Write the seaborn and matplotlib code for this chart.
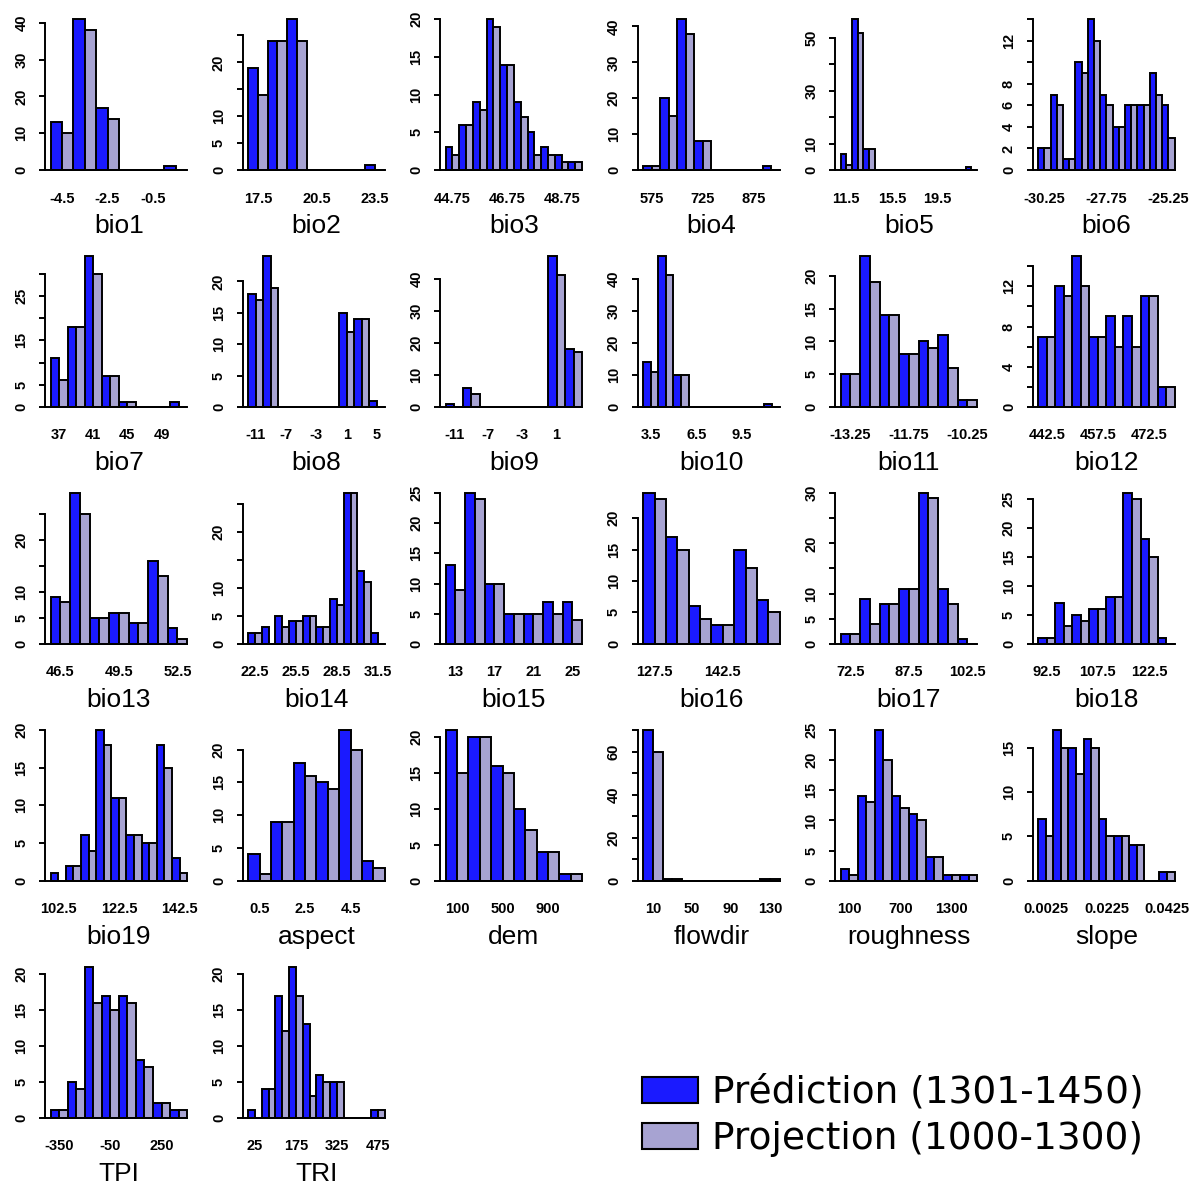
import matplotlib
matplotlib.use("Agg")
import matplotlib.pyplot as plt
from matplotlib.patches import Patch
import pandas as pd
import seaborn as sns

PRED_LABEL = "Prédiction (1301-1450)"
PROJ_LABEL = "Projection (1000-1300)"
PRED_COLOR = "#1a1aff"
PROJ_COLOR = "#a7a3d2"

# ---- binned counts per variable: bin centres, prediction counts, projection counts ----
bio1_bins = [-4.5, -3.5, -2.5, -1.5, -0.5, 0.5]
bio1_pred = [13, 41, 17, 0, 0, 1]
bio1_proj = [10, 38, 14, 0, 0, 0]
bio1_xlab = [-4.5, -2.5, -0.5]
bio1_yticks = [0, 10, 20, 30, 40]
bio1_ylab = [0, 10, 20, 30, 40]

bio2_bins = [17.5, 18.5, 19.5, 20.5, 21.5, 22.5, 23.5]
bio2_pred = [19, 24, 28, 0, 0, 0, 1]
bio2_proj = [14, 24, 24, 0, 0, 0, 0]
bio2_xlab = [17.5, 20.5, 23.5]
bio2_yticks = [0, 5, 10, 15, 20, 25]
bio2_ylab = [0, 5, 10, 20]

bio3_bins = [44.75, 45.25, 45.75, 46.25, 46.75, 47.25, 47.75, 48.25, 48.75, 49.25]
bio3_pred = [3, 6, 9, 20, 14, 9, 5, 3, 2, 1]
bio3_proj = [2, 6, 8, 19, 14, 7, 2, 2, 1, 1]
bio3_xlab = [44.75, 46.75, 48.75]
bio3_yticks = [0, 5, 10, 15, 20]
bio3_ylab = [0, 5, 10, 15, 20]

bio4_bins = [575, 625, 675, 725, 775, 825, 875, 925]
bio4_pred = [1, 20, 42, 8, 0, 0, 0, 1]
bio4_proj = [1, 15, 38, 8, 0, 0, 0, 0]
bio4_xlab = [575, 725, 875]
bio4_yticks = [0, 10, 20, 30, 40]
bio4_ylab = [0, 10, 20, 30, 40]

bio5_bins = [11.5, 12.5, 13.5, 14.5, 15.5, 16.5, 17.5, 18.5, 19.5, 20.5, 21.5, 22.5]
bio5_pred = [6, 57, 8, 0, 0, 0, 0, 0, 0, 0, 0, 1]
bio5_proj = [2, 52, 8, 0, 0, 0, 0, 0, 0, 0, 0, 0]
bio5_xlab = [11.5, 15.5, 19.5]
bio5_yticks = [0, 10, 20, 30, 40, 50]
bio5_ylab = [0, 10, 30, 50]

bio6_bins = [-30.25, -29.75, -29.25, -28.75, -28.25, -27.75, -27.25, -26.75, -26.25, -25.75, -25.25]
bio6_pred = [2, 7, 1, 10, 14, 7, 4, 6, 6, 9, 6]
bio6_proj = [2, 6, 1, 9, 12, 6, 4, 6, 6, 7, 3]
bio6_xlab = [-30.25, -27.75, -25.25]
bio6_yticks = [0, 2, 4, 6, 8, 10, 12, 14]
bio6_ylab = [0, 2, 4, 6, 8, 12]

bio7_bins = [37, 39, 41, 43, 45, 47, 49, 51]
bio7_pred = [11, 18, 34, 7, 1, 0, 0, 1]
bio7_proj = [6, 18, 30, 7, 1, 0, 0, 0]
bio7_xlab = [37, 41, 45, 49]
bio7_yticks = [0, 5, 10, 15, 20, 25, 30]
bio7_ylab = [0, 5, 15, 25]

bio8_bins = [-11, -9, -7, -5, -3, -1, 1, 3, 5]
bio8_pred = [18, 24, 0, 0, 0, 0, 15, 14, 1]
bio8_proj = [17, 19, 0, 0, 0, 0, 12, 14, 0]
bio8_xlab = [-11, -7, -3, 1, 5]
bio8_yticks = [0, 5, 10, 15, 20]
bio8_ylab = [0, 5, 10, 15, 20]

bio9_bins = [-11, -9, -7, -5, -3, -1, 1, 3]
bio9_pred = [1, 6, 0, 0, 0, 0, 47, 18]
bio9_proj = [0, 4, 0, 0, 0, 0, 41, 17]
bio9_xlab = [-11, -7, -3, 1]
bio9_yticks = [0, 10, 20, 30, 40]
bio9_ylab = [0, 10, 20, 30, 40]

bio10_bins = [3.5, 4.5, 5.5, 6.5, 7.5, 8.5, 9.5, 10.5, 11.5]
bio10_pred = [14, 47, 10, 0, 0, 0, 0, 0, 1]
bio10_proj = [11, 41, 10, 0, 0, 0, 0, 0, 0]
bio10_xlab = [3.5, 6.5, 9.5]
bio10_yticks = [0, 10, 20, 30, 40]
bio10_ylab = [0, 10, 20, 30, 40]

bio11_bins = [-13.25, -12.75, -12.25, -11.75, -11.25, -10.75, -10.25]
bio11_pred = [5, 23, 14, 8, 10, 11, 1]
bio11_proj = [5, 19, 14, 8, 9, 6, 1]
bio11_xlab = [-13.25, -11.75, -10.25]
bio11_yticks = [0, 5, 10, 15, 20]
bio11_ylab = [0, 5, 10, 15, 20]

bio12_bins = [442.5, 447.5, 452.5, 457.5, 462.5, 467.5, 472.5, 477.5]
bio12_pred = [7, 12, 15, 7, 9, 9, 11, 2]
bio12_proj = [7, 11, 12, 7, 6, 6, 11, 2]
bio12_xlab = [442.5, 457.5, 472.5]
bio12_yticks = [0, 2, 4, 6, 8, 10, 12, 14]
bio12_ylab = [0, 4, 8, 12]

bio13_bins = [46.5, 47.5, 48.5, 49.5, 50.5, 51.5, 52.5]
bio13_pred = [9, 29, 5, 6, 4, 16, 3]
bio13_proj = [8, 25, 5, 6, 4, 13, 1]
bio13_xlab = [46.5, 49.5, 52.5]
bio13_yticks = [0, 5, 10, 15, 20, 25]
bio13_ylab = [0, 5, 10, 20]

bio14_bins = [22.5, 23.5, 24.5, 25.5, 26.5, 27.5, 28.5, 29.5, 30.5, 31.5]
bio14_pred = [2, 3, 5, 4, 5, 3, 8, 27, 13, 2]
bio14_proj = [2, 0, 3, 4, 5, 3, 7, 27, 11, 0]
bio14_xlab = [22.5, 25.5, 28.5, 31.5]
bio14_yticks = [0, 5, 10, 15, 20, 25]
bio14_ylab = [0, 5, 10, 20]

bio15_bins = [13, 15, 17, 19, 21, 23, 25]
bio15_pred = [13, 25, 10, 5, 5, 7, 7]
bio15_proj = [9, 24, 10, 5, 5, 5, 4]
bio15_xlab = [13, 17, 21, 25]
bio15_yticks = [0, 5, 10, 15, 20, 25]
bio15_ylab = [0, 5, 10, 15, 20, 25]

bio16_bins = [127.5, 132.5, 137.5, 142.5, 147.5, 152.5]
bio16_pred = [24, 17, 6, 3, 15, 7]
bio16_proj = [23, 15, 4, 3, 12, 5]
bio16_xlab = [127.5, 142.5]
bio16_yticks = [0, 5, 10, 15, 20]
bio16_ylab = [0, 5, 10, 15, 20]

bio17_bins = [72.5, 77.5, 82.5, 87.5, 92.5, 97.5, 102.5]
bio17_pred = [2, 9, 8, 11, 30, 11, 1]
bio17_proj = [2, 4, 8, 11, 29, 8, 0]
bio17_xlab = [72.5, 87.5, 102.5]
bio17_yticks = [0, 5, 10, 15, 20, 25, 30]
bio17_ylab = [0, 5, 10, 20, 30]

bio18_bins = [92.5, 97.5, 102.5, 107.5, 112.5, 117.5, 122.5, 127.5]
bio18_pred = [1, 7, 5, 6, 8, 26, 18, 1]
bio18_proj = [1, 3, 4, 6, 8, 25, 15, 0]
bio18_xlab = [92.5, 107.5, 122.5]
bio18_yticks = [0, 5, 10, 15, 20, 25]
bio18_ylab = [0, 5, 10, 15, 20, 25]

bio19_bins = [102.5, 107.5, 112.5, 117.5, 122.5, 127.5, 132.5, 137.5, 142.5]
bio19_pred = [1, 2, 6, 20, 11, 6, 5, 18, 3]
bio19_proj = [0, 2, 4, 18, 11, 6, 5, 15, 1]
bio19_xlab = [102.5, 122.5, 142.5]
bio19_yticks = [0, 5, 10, 15, 20]
bio19_ylab = [0, 5, 10, 15, 20]

aspect_bins = [0.5, 1.5, 2.5, 3.5, 4.5, 5.5]
aspect_pred = [4, 9, 18, 15, 23, 3]
aspect_proj = [1, 9, 16, 14, 20, 2]
aspect_xlab = [0.5, 2.5, 4.5]
aspect_yticks = [0, 5, 10, 15, 20]
aspect_ylab = [0, 5, 10, 15, 20]

dem_bins = [100, 300, 500, 700, 900, 1100]
dem_pred = [21, 20, 16, 10, 4, 1]
dem_proj = [15, 20, 15, 7, 4, 1]
dem_xlab = [100, 500, 900]
dem_yticks = [0, 5, 10, 15, 20]
dem_ylab = [0, 5, 10, 15, 20]

flowdir_bins = [10, 30, 50, 70, 90, 110, 130]
flowdir_pred = [70, 1, 0, 0, 0, 0, 1]
flowdir_proj = [60, 1, 0, 0, 0, 0, 1]
flowdir_xlab = [10, 50, 90, 130]
flowdir_yticks = [0, 10, 20, 30, 40, 50, 60, 70]
flowdir_ylab = [0, 20, 40, 60]

roughness_bins = [100, 300, 500, 700, 900, 1100, 1300, 1500]
roughness_pred = [2, 14, 25, 14, 11, 4, 1, 1]
roughness_proj = [1, 13, 20, 12, 10, 4, 1, 1]
roughness_xlab = [100, 700, 1300]
roughness_yticks = [0, 5, 10, 15, 20, 25]
roughness_ylab = [0, 5, 10, 15, 20, 25]

slope_bins = [0.0025, 0.0075, 0.0125, 0.0175, 0.0225, 0.0275, 0.0325, 0.0375, 0.0425]
slope_pred = [7, 17, 15, 16, 7, 5, 4, 0, 1]
slope_proj = [5, 15, 12, 15, 5, 5, 4, 0, 1]
slope_xlab = [0.0025, 0.0225, 0.0425]
slope_yticks = [0, 5, 10, 15]
slope_ylab = [0, 5, 10, 15]

TPI_bins = [-350, -250, -150, -50, 50, 150, 250, 350]
TPI_pred = [1, 5, 21, 17, 17, 8, 2, 1]
TPI_proj = [1, 4, 16, 15, 16, 7, 2, 1]
TPI_xlab = [-350, -50, 250]
TPI_yticks = [0, 5, 10, 15, 20]
TPI_ylab = [0, 5, 10, 15, 20]

TRI_bins = [25, 75, 125, 175, 225, 275, 325, 375, 425, 475]
TRI_pred = [1, 4, 17, 21, 13, 6, 5, 0, 0, 1]
TRI_proj = [0, 4, 12, 17, 3, 5, 5, 0, 0, 1]
TRI_xlab = [25, 175, 325, 475]
TRI_yticks = [0, 5, 10, 15, 20]
TRI_ylab = [0, 5, 10, 15, 20]

PANELS = [
    ("bio1", bio1_bins, bio1_pred, bio1_proj, bio1_xlab, bio1_yticks, bio1_ylab),
    ("bio2", bio2_bins, bio2_pred, bio2_proj, bio2_xlab, bio2_yticks, bio2_ylab),
    ("bio3", bio3_bins, bio3_pred, bio3_proj, bio3_xlab, bio3_yticks, bio3_ylab),
    ("bio4", bio4_bins, bio4_pred, bio4_proj, bio4_xlab, bio4_yticks, bio4_ylab),
    ("bio5", bio5_bins, bio5_pred, bio5_proj, bio5_xlab, bio5_yticks, bio5_ylab),
    ("bio6", bio6_bins, bio6_pred, bio6_proj, bio6_xlab, bio6_yticks, bio6_ylab),
    ("bio7", bio7_bins, bio7_pred, bio7_proj, bio7_xlab, bio7_yticks, bio7_ylab),
    ("bio8", bio8_bins, bio8_pred, bio8_proj, bio8_xlab, bio8_yticks, bio8_ylab),
    ("bio9", bio9_bins, bio9_pred, bio9_proj, bio9_xlab, bio9_yticks, bio9_ylab),
    ("bio10", bio10_bins, bio10_pred, bio10_proj, bio10_xlab, bio10_yticks, bio10_ylab),
    ("bio11", bio11_bins, bio11_pred, bio11_proj, bio11_xlab, bio11_yticks, bio11_ylab),
    ("bio12", bio12_bins, bio12_pred, bio12_proj, bio12_xlab, bio12_yticks, bio12_ylab),
    ("bio13", bio13_bins, bio13_pred, bio13_proj, bio13_xlab, bio13_yticks, bio13_ylab),
    ("bio14", bio14_bins, bio14_pred, bio14_proj, bio14_xlab, bio14_yticks, bio14_ylab),
    ("bio15", bio15_bins, bio15_pred, bio15_proj, bio15_xlab, bio15_yticks, bio15_ylab),
    ("bio16", bio16_bins, bio16_pred, bio16_proj, bio16_xlab, bio16_yticks, bio16_ylab),
    ("bio17", bio17_bins, bio17_pred, bio17_proj, bio17_xlab, bio17_yticks, bio17_ylab),
    ("bio18", bio18_bins, bio18_pred, bio18_proj, bio18_xlab, bio18_yticks, bio18_ylab),
    ("bio19", bio19_bins, bio19_pred, bio19_proj, bio19_xlab, bio19_yticks, bio19_ylab),
    ("aspect", aspect_bins, aspect_pred, aspect_proj, aspect_xlab, aspect_yticks, aspect_ylab),
    ("dem", dem_bins, dem_pred, dem_proj, dem_xlab, dem_yticks, dem_ylab),
    ("flowdir", flowdir_bins, flowdir_pred, flowdir_proj, flowdir_xlab, flowdir_yticks, flowdir_ylab),
    ("roughness", roughness_bins, roughness_pred, roughness_proj, roughness_xlab, roughness_yticks, roughness_ylab),
    ("slope", slope_bins, slope_pred, slope_proj, slope_xlab, slope_yticks, slope_ylab),
    ("TPI", TPI_bins, TPI_pred, TPI_proj, TPI_xlab, TPI_yticks, TPI_ylab),
    ("TRI", TRI_bins, TRI_pred, TRI_proj, TRI_xlab, TRI_yticks, TRI_ylab),
]

# ---- layout (pixels) ----
FIG_W, FIG_H, DPI = 1192, 1187, 100
N_COLS = 6
COL_X0, COL_STEP, AX_W = 45.2, 197.5, 147.4   # left edge of plot region, column pitch, width
ROW_BASE0, ROW_STEP = 170.0, 236.9            # y of the zero line in the first row, row pitch
BAR_SPAN = 150.7                              # pixel height of the tallest bar
TITLE_DROP = 63                               # baseline of panel name below the zero line
LW = 1.4

plt.rcParams["font.family"] = ["Liberation Sans", "DejaVu Sans"]

fig = plt.figure(figsize=(FIG_W / DPI, FIG_H / DPI), dpi=DPI)
fig.patch.set_facecolor("white")


def fmt(v):
    return f"{v:g}"


for k, (name, bins, pred, proj, xlab, yticks, ylab) in enumerate(PANELS):
    r, c = divmod(k, N_COLS)
    base = ROW_BASE0 + r * ROW_STEP
    top = base - 1.04 * BAR_SPAN
    bottom = base + 0.04 * BAR_SPAN
    left = COL_X0 + c * COL_STEP
    ax = fig.add_axes([left / FIG_W, 1 - bottom / FIG_H, AX_W / FIG_W, (bottom - top) / FIG_H])

    cats = [fmt(b) for b in bins]
    n = len(cats)
    df = pd.DataFrame({
        "bin": cats * 2,
        "count": list(pred) + list(proj),
        "series": [PRED_LABEL] * n + [PROJ_LABEL] * n,
    })
    sns.barplot(data=df, x="bin", y="count", hue="series", order=cats,
                hue_order=[PRED_LABEL, PROJ_LABEL], palette=[PRED_COLOR, PROJ_COLOR],
                width=1.0, dodge=True, saturation=1, errorbar=None,
                edgecolor="black", linewidth=LW, legend=False, ax=ax)

    m = max(max(pred), max(proj))
    x0 = -0.5 - 0.04 * n
    ax.set_xlim(x0, n - 0.5 + 0.04 * n)
    ax.set_ylim(-0.04 * m, 1.04 * m)
    ax.set_xlabel("")
    ax.set_ylabel("")
    ax.set_facecolor("none")

    for side in ("top", "right"):
        ax.spines[side].set_visible(False)
    ax.spines["left"].set_bounds(0, yticks[-1])
    ax.spines["left"].set_linewidth(LW)
    ax.spines["bottom"].set_position(("data", 0))
    ax.spines["bottom"].set_bounds(x0, n - 0.5)
    ax.spines["bottom"].set_linewidth(LW)

    ax.set_yticks(yticks, labels=[str(t) if t in ylab else "" for t in yticks])
    ax.tick_params(axis="y", direction="out", length=4.6, width=LW, pad=7.5,
                   labelsize=10.5, labelrotation=90)
    for lab in ax.get_yticklabels():
        lab.set_fontweight("bold")
        lab.set_va("center")

    ax.set_xticks([cats.index(fmt(v)) for v in xlab], labels=[fmt(v) for v in xlab])
    ax.tick_params(axis="x", length=0, pad=15.5, labelsize=10.5)
    for lab in ax.get_xticklabels():
        lab.set_fontweight("bold")

    fig.text((left + AX_W / 2) / FIG_W, 1 - (base + TITLE_DROP) / FIG_H, name,
             ha="center", va="baseline", fontsize=19)

handles = [
    Patch(facecolor=PRED_COLOR, edgecolor="black", linewidth=1.5, label=PRED_LABEL),
    Patch(facecolor=PROJ_COLOR, edgecolor="black", linewidth=1.5, label=PROJ_LABEL),
]
fig.legend(handles=handles, loc="upper left", bbox_to_anchor=(642 / FIG_W, 1 - 1075 / FIG_H),
           frameon=False, prop={"family": "DejaVu Sans", "size": 27},
           handlelength=1.49, handleheight=0.69, handletextpad=0.37,
           labelspacing=0.27, borderpad=0, borderaxespad=0)

fig.savefig("out.png", dpi=DPI, facecolor="white")
